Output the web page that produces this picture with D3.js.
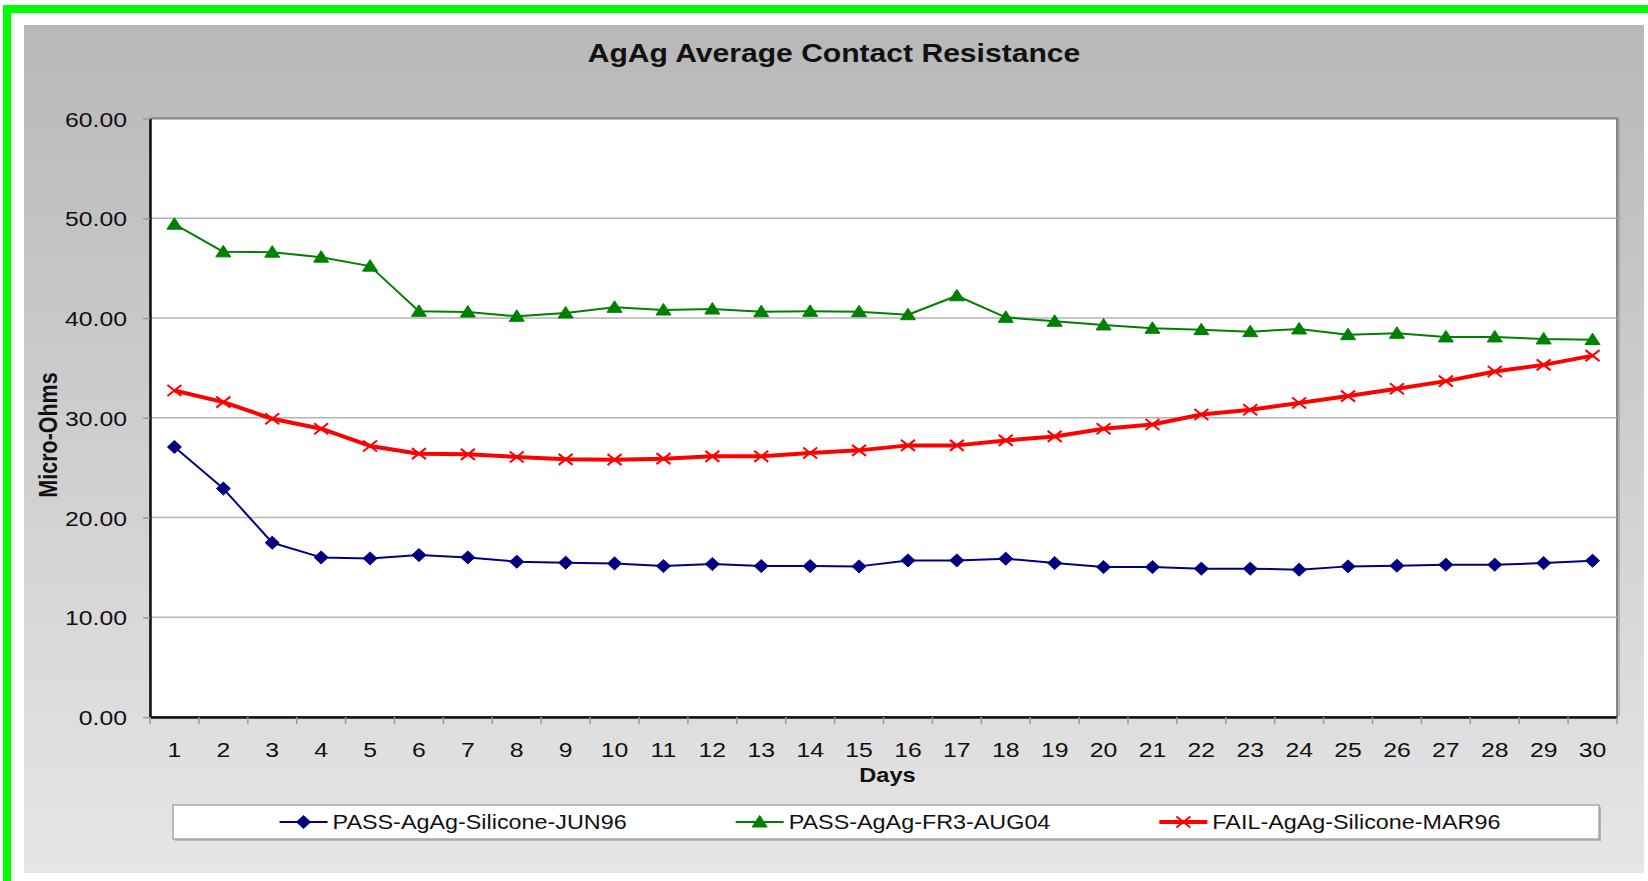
<!DOCTYPE html>
<html>
<head>
    <meta charset="utf-8">
    <script src="https://d3js.org/d3.v7.min.js"></script>
    <style>
        body {
            margin: 0;
            background: #ffffff;
            font-family: "Liberation Sans", Arial, sans-serif;
        }
    </style>
</head>
<body>
    <div id="chart"></div>
    <script>
        // values
        var days = d3.range(1, 31);
        var passSilicone = [27.07, 22.9, 17.47, 16.0, 15.9, 16.23, 16.0, 15.57, 15.47, 15.4,
            15.13, 15.33, 15.13, 15.13, 15.1, 15.7, 15.7, 15.87, 15.43, 15.03,
            15.03, 14.87, 14.87, 14.77, 15.1, 15.17, 15.27, 15.27, 15.43, 15.67];
        var passFR3 = [49.4, 46.63, 46.6, 46.1, 45.2, 40.67, 40.6, 40.17, 40.5, 41.07,
            40.8, 40.9, 40.63, 40.67, 40.63, 40.33, 42.23, 40.07, 39.67, 39.3,
            38.97, 38.83, 38.63, 38.9, 38.33, 38.47, 38.1, 38.1, 37.9, 37.83];
        var failSilicone = [32.73, 31.57, 29.9, 28.9, 27.17, 26.4, 26.33, 26.07, 25.83, 25.8,
            25.9, 26.13, 26.13, 26.47, 26.73, 27.23, 27.23, 27.73, 28.13, 28.9,
            29.33, 30.33, 30.8, 31.47, 32.17, 32.9, 33.67, 34.63, 35.3, 36.23];
        var seriesNames = ["PASS-AgAg-Silicone-JUN96", "PASS-AgAg-FR3-AUG04", "FAIL-AgAg-Silicone-MAR96"];
        var yTicks = [0, 10, 20, 30, 40, 50, 60];

        var series = [
            { name: seriesNames[0], values: passSilicone, color: "#000080", width: 2, marker: "diamond" },
            { name: seriesNames[1], values: passFR3, color: "#008000", width: 2, marker: "triangle" },
            { name: seriesNames[2], values: failSilicone, color: "#ff0000", width: 4, marker: "cross" }
        ];

        var W = 1648, H = 881;
        var stretch = 1.18; // the reference text is drawn a bit wide
        var plot = { left: 150, right: 1617, top: 118.5, bottom: 717 };

        var svg = d3.select("#chart").append("svg")
            .attr("width", W)
            .attr("height", H);

        var defs = svg.append("defs");
        var grad = defs.append("linearGradient")
            .attr("id", "bg")
            .attr("x1", 0).attr("y1", 0).attr("x2", 0).attr("y2", 1);
        grad.append("stop").attr("offset", "0%").attr("stop-color", "#b8b8b8");
        grad.append("stop").attr("offset", "100%").attr("stop-color", "#e6e6e6");

        // green frame (left and top only)
        svg.append("rect").attr("x", 3).attr("y", 5).attr("width", 8).attr("height", H - 5).attr("fill", "#00ff00");
        svg.append("rect").attr("x", 3).attr("y", 5).attr("width", W - 3).attr("height", 8).attr("fill", "#00ff00");

        // chart area
        svg.append("rect")
            .attr("x", 24).attr("y", 25)
            .attr("width", 1620).attr("height", 848)
            .attr("fill", "url(#bg)");

        var x = d3.scaleBand()
            .domain(days)
            .range([plot.left, plot.right]);
        var y = d3.scaleLinear()
            .domain([0, 60])
            .range([plot.bottom, plot.top]);

        // plot area with a soft shadow
        svg.append("rect")
            .attr("x", plot.left + 3).attr("y", plot.top - 1)
            .attr("width", plot.right - plot.left).attr("height", plot.bottom - plot.top)
            .attr("fill", "#9a9a9a").attr("opacity", 0.6);
        svg.append("rect")
            .attr("x", plot.left).attr("y", plot.top)
            .attr("width", plot.right - plot.left).attr("height", plot.bottom - plot.top)
            .attr("fill", "#ffffff")
            .attr("stroke", "#858585")
            .attr("stroke-width", 2);

        // gridlines
        svg.append("g")
            .selectAll("line")
            .data(yTicks.filter(function (d) { return d > 0 && d < 60; }))
            .join("line")
            .attr("x1", plot.left).attr("x2", plot.right)
            .attr("y1", function (d) { return y(d); })
            .attr("y2", function (d) { return y(d); })
            .attr("stroke", "#b4b4b4")
            .attr("stroke-width", 1.5);

        // y axis
        var yAxis = svg.append("g")
            .attr("transform", "translate(" + plot.left + ",0)")
            .call(d3.axisLeft(y).tickValues(yTicks).tickFormat(d3.format(".2f")).tickSize(7).tickSizeOuter(0));
        yAxis.select(".domain").attr("stroke", "#111").attr("stroke-width", 2.5);
        yAxis.selectAll(".tick line").attr("stroke", "#999").attr("stroke-width", 1.5);
        yAxis.selectAll(".tick text")
            .attr("x", -23 / stretch)
            .attr("dy", "0.36em")
            .attr("transform", "scale(" + stretch + ",1)")
            .attr("font-family", "Liberation Sans, Arial, sans-serif")
            .attr("font-size", 21)
            .attr("fill", "#111");

        // x axis: labels at category centres, tick marks on category boundaries
        var xAxis = svg.append("g")
            .attr("transform", "translate(0," + plot.bottom + ")")
            .call(d3.axisBottom(x).tickSize(0).tickSizeOuter(0));
        xAxis.select(".domain").attr("stroke", "#111").attr("stroke-width", 2.5);
        xAxis.selectAll(".tick text")
            .attr("y", 40)
            .attr("dy", 0)
            .attr("transform", "scale(" + stretch + ",1)")
            .attr("font-family", "Liberation Sans, Arial, sans-serif")
            .attr("font-size", 21)
            .attr("fill", "#111");
        xAxis.selectAll(".bound")
            .data(days.concat([null]))
            .join("line")
            .attr("class", "bound")
            .attr("x1", function (d) { return d === null ? plot.right : x(d); })
            .attr("x2", function (d) { return d === null ? plot.right : x(d); })
            .attr("y1", 0).attr("y2", 7)
            .attr("stroke", "#999")
            .attr("stroke-width", 1.5);

        function wideText(g, tx, ty, str, size, weight, anchor, rotate) {
            var t = g.append("g")
                .attr("transform", "translate(" + tx + "," + ty + ")" + (rotate ? " rotate(" + rotate + ")" : "") + " scale(" + stretch + ",1)")
                .append("text")
                .attr("text-anchor", anchor)
                .attr("font-family", "Liberation Sans, Arial, sans-serif")
                .attr("font-size", size)
                .attr("font-weight", weight)
                .attr("fill", "#111")
                .text(str);
            return t;
        }

        // titles
        wideText(svg, 834, 62, "AgAg Average Contact Resistance", 25.5, "bold", "middle");
        wideText(svg, (plot.left + plot.right) / 2 + 4, 782, "Days", 20, "bold", "middle");
        // vertical title: the page stretch applies across the glyphs here
        svg.append("text")
            .attr("transform", "translate(57,435) rotate(-90) scale(1," + stretch + ")")
            .attr("text-anchor", "middle")
            .attr("font-family", "Liberation Sans, Arial, sans-serif")
            .attr("font-size", 21.5)
            .attr("font-weight", "bold")
            .attr("fill", "#111")
            .text("Micro-Ohms");

        // series lines and markers
        var line = d3.line()
            .x(function (d, i) { return x(days[i]) + x.bandwidth() / 2; })
            .y(function (d) { return y(d); });

        function markerPath(kind) {
            if (kind === "diamond") return "M0,-6.5L7,0L0,6.5L-7,0Z";
            if (kind === "triangle") return "M0,-6.5L7.5,5L-7.5,5Z";
            return "M-7,-5.5L7,5.5M-7,5.5L7,-5.5";
        }

        series.forEach(function (s) {
            var g = svg.append("g");
            g.append("path")
                .datum(s.values)
                .attr("d", line)
                .attr("fill", "none")
                .attr("stroke", s.color)
                .attr("stroke-width", s.width)
                .attr("stroke-linejoin", "round");
            g.selectAll(".pt")
                .data(s.values)
                .join("path")
                .attr("class", "pt")
                .attr("transform", function (d, i) {
                    return "translate(" + (x(days[i]) + x.bandwidth() / 2) + "," + y(d) + ")";
                })
                .attr("d", markerPath(s.marker))
                .attr("fill", s.marker === "cross" ? "none" : s.color)
                .attr("stroke", s.color)
                .attr("stroke-width", s.marker === "cross" ? 2 : 1);
        });

        // legend
        var legend = { x: 173, y: 805, w: 1426, h: 34 };
        svg.append("rect")
            .attr("x", legend.x + 2).attr("y", legend.y + 2)
            .attr("width", legend.w).attr("height", legend.h)
            .attr("fill", "#b5b5b5");
        svg.append("rect")
            .attr("x", legend.x).attr("y", legend.y)
            .attr("width", legend.w).attr("height", legend.h)
            .attr("fill", "#ffffff")
            .attr("stroke", "#a8a8a8")
            .attr("stroke-width", 1.5);

        var swatch = 48, pad = 5, gap = 109;
        var items = svg.append("g");
        var widths = [];
        var texts = series.map(function (s) {
            var t = wideText(items, 0, 0, s.name, 19.8, "normal", "start");
            widths.push(t.node().getComputedTextLength() * stretch);
            return t;
        });
        var total = d3.sum(widths) + series.length * (swatch + pad) + gap * (series.length - 1);
        var cx = legend.x + legend.w / 2 + 4 - total / 2;
        var cy = legend.y + legend.h / 2;
        series.forEach(function (s, i) {
            items.append("line")
                .attr("x1", cx).attr("x2", cx + swatch)
                .attr("y1", cy).attr("y2", cy)
                .attr("stroke", s.color)
                .attr("stroke-width", s.width);
            items.append("path")
                .attr("transform", "translate(" + (cx + swatch / 2) + "," + cy + ")")
                .attr("d", markerPath(s.marker))
                .attr("fill", s.marker === "cross" ? "none" : s.color)
                .attr("stroke", s.color)
                .attr("stroke-width", s.marker === "cross" ? 2 : 1);
            d3.select(texts[i].node().parentNode)
                .attr("transform", "translate(" + (cx + swatch + pad) + "," + (cy + 7) + ") scale(" + stretch + ",1)");
            cx += swatch + pad + widths[i] + gap;
        });
    </script>
</body>
</html>
